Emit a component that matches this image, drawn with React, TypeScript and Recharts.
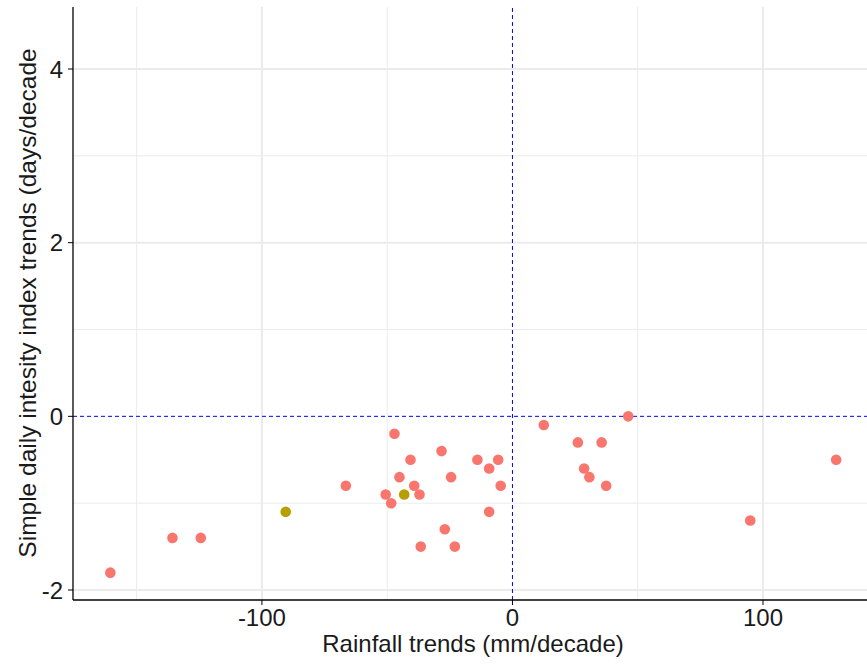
import React from "react";
import {
    ScatterChart,
    Scatter,
    XAxis,
    YAxis,
    ReferenceLine,
    Label,
} from "recharts";

// rainfall trend (mm/decade) vs SDII trend (days/decade)
const rainfallMain = [
    -160.5, -135.7, -124.4, -66.5, -50.6, -48.4, -47.1, -45.1, -40.7, -39.2,
    -37.1, -36.6, -28.3, -27.0, -24.5, -23.0, -14.0, -9.3, -9.3, -5.7, -4.7,
    12.5, 26.1, 28.6, 30.7, 35.6, 37.4, 46.2, 94.9, 129.2,
];
const sdiiMain = [
    -1.8, -1.4, -1.4, -0.8, -0.9, -1.0, -0.2, -0.7, -0.5, -0.8,
    -0.9, -1.5, -0.4, -1.3, -0.7, -1.5, -0.5, -0.6, -1.1, -0.5, -0.8,
    -0.1, -0.3, -0.6, -0.7, -0.3, -0.8, 0.0, -1.2, -0.5,
];
const rainfallOther = [-90.5, -43.2];
const sdiiOther = [-1.1, -0.9];

const xTicks = [-100, 0, 100];
const yTicks = [-2, 0, 2, 4];
const xMajorGrid = [-100, 100];
const xMinorGrid = [-150, -50, 50];
const yMajorGrid = [-2, 2, 4];
const yMinorGrid = [-1, 1, 3];

const mainData = rainfallMain.map((x, i) => ({x, y: sdiiMain[i]}));
const otherData = rainfallOther.map((x, i) => ({x, y: sdiiOther[i]}));

const FONT = "Liberation Sans, Arial, sans-serif";

const dot = (color: string) => (props: any) => (
    <circle cx={props.cx} cy={props.cy} r={5.3} fill={color}/>
);

const YTitle = () => (
    <text
        x={27}
        y={303}
        transform="rotate(-90 27 303)"
        textAnchor="middle"
        dominantBaseline="central"
        fontSize={24.5}
        fontFamily={FONT}
        fill="#1a1a1a"
    >
        Simple daily intesity index trends (days/decade
    </text>
);

const App = () => {
    return (
        <div style={{position: "absolute", left: 0, top: 0, width: 867, height: 665, overflow: "hidden", background: "#fff"}}>
            <ScatterChart
                width={873}
                height={665}
                margin={{top: 7, right: 0, left: 0, bottom: 0}}
            >
                {xMinorGrid.map((v) => (
                    <ReferenceLine key={"xm" + v} x={v} stroke="#EBEBEB" strokeWidth={1}/>
                ))}
                {yMinorGrid.map((v) => (
                    <ReferenceLine key={"ym" + v} y={v} stroke="#EBEBEB" strokeWidth={1}/>
                ))}
                {xMajorGrid.map((v) => (
                    <ReferenceLine key={"xM" + v} x={v} stroke="#EBEBEB" strokeWidth={2}/>
                ))}
                {yMajorGrid.map((v) => (
                    <ReferenceLine key={"yM" + v} y={v} stroke="#EBEBEB" strokeWidth={2}/>
                ))}
                <ReferenceLine x={0} stroke="#0000FF" strokeWidth={1} strokeDasharray="4 3"/>
                <ReferenceLine y={0} stroke="#0000FF" strokeWidth={1} strokeDasharray="4 3"/>

                <XAxis
                    type="number"
                    dataKey="x"
                    domain={[-175.4, 143.9]}
                    ticks={xTicks}
                    allowDataOverflow
                    height={65}
                    tickSize={5}
                    tickMargin={4}
                    axisLine={{stroke: "#000", strokeWidth: 1.3}}
                    tickLine={{stroke: "#000"}}
                    tick={{fontSize: 24, fill: "#1a1a1a", fontFamily: FONT}}
                >
                    <Label
                        value="Rainfall trends (mm/decade)"
                        position="insideBottom"
                        offset={13}
                        style={{fontSize: 24, fill: "#1a1a1a", fontFamily: FONT}}
                    />
                </XAxis>
                <YAxis
                    type="number"
                    dataKey="y"
                    domain={[-2.115, 4.714]}
                    ticks={yTicks}
                    allowDataOverflow
                    width={73}
                    tickSize={5}
                    tickMargin={5}
                    axisLine={{stroke: "#000", strokeWidth: 1.3}}
                    tickLine={{stroke: "#000"}}
                    tick={{fontSize: 24, fill: "#1a1a1a", fontFamily: FONT}}
                >
                    <Label content={<YTitle/>}/>
                </YAxis>

                <Scatter data={mainData} shape={dot("#F8766D")} isAnimationActive={false}/>
                <Scatter data={otherData} shape={dot("#B79F00")} isAnimationActive={false}/>
            </ScatterChart>
        </div>
    );
};

export default App;
